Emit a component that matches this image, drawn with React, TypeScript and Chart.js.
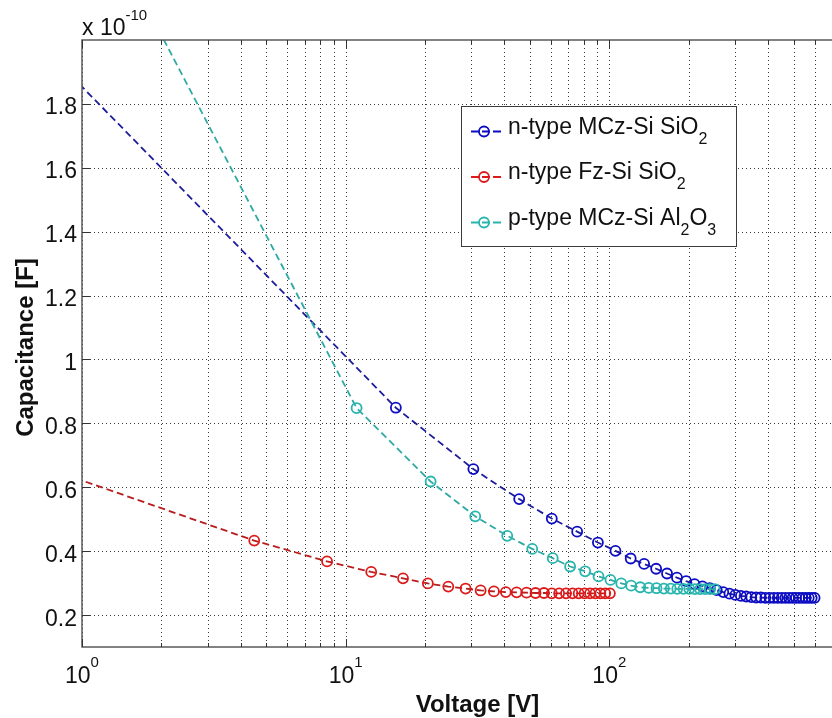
import React, { useEffect, useRef } from 'react';
import { Chart, registerables } from 'chart.js';

Chart.register(...registerables);

// ---------- data (capacitance in units of 1e-10 F) ----------
const blueV = [0.5, 15.5, 30.5, 45.5, 60.5, 75.5, 90.5, 105.5, 120.5, 135.5, 150.5, 165.5, 180.5, 195.5, 210.5, 225.5, 240.5, 255.5, 270.5, 285.5, 300.5, 315.5, 330.5, 345.5, 360.5, 375.5, 390.5, 405.5, 420.5, 435.5, 450.5, 465.5, 480.5, 495.5, 510.5, 525.5, 540.5, 555.5, 570.5, 585.5, 600.5];
const blueC = [2.108, 0.849, 0.657, 0.563, 0.502, 0.461, 0.427, 0.401, 0.377, 0.360, 0.345, 0.330, 0.317, 0.306, 0.297, 0.290, 0.284, 0.278, 0.272, 0.267, 0.263, 0.260, 0.258, 0.256, 0.255, 0.255, 0.254, 0.254, 0.254, 0.254, 0.254, 0.254, 0.254, 0.254, 0.254, 0.254, 0.254, 0.254, 0.254, 0.254, 0.254];

const redV = [0.5, 4.5, 8.5, 12.5, 16.5, 20.5, 24.5, 28.5, 32.5, 36.5, 40.5, 44.5, 48.5, 52.5, 56.5, 60.5, 64.5, 68.5, 72.5, 76.5, 80.5, 84.5, 88.5, 92.5, 96.5, 100.5];
const redC = [0.708, 0.433, 0.368, 0.335, 0.315, 0.299, 0.289, 0.283, 0.277, 0.274, 0.272, 0.271, 0.270, 0.269, 0.269, 0.268, 0.268, 0.268, 0.268, 0.268, 0.268, 0.268, 0.268, 0.268, 0.268, 0.268];

const cyanV = [1, 11, 21, 31, 41, 51, 61, 71, 81, 91, 101, 111, 121, 131, 141, 151, 161, 171, 181, 191, 201, 211, 221, 231, 241, 251];
const cyanC = [2.49, 0.848, 0.618, 0.509, 0.448, 0.407, 0.378, 0.352, 0.337, 0.321, 0.310, 0.299, 0.292, 0.287, 0.285, 0.284, 0.283, 0.283, 0.282, 0.282, 0.282, 0.281, 0.281, 0.281, 0.281, 0.281];

const seriesLabels = ['n-type MCz-Si SiO_2', 'n-type Fz-Si SiO_2', 'p-type MCz-Si Al_2O_3'];

const yTicks = [0.2, 0.4, 0.6, 0.8, 1.0, 1.2, 1.4, 1.6, 1.8];
const yTickLabels = ['0.2', '0.4', '0.6', '0.8', '1', '1.2', '1.4', '1.6', '1.8'];
const xMajor = [1, 10, 100];
const xMajorExp = ['0', '1', '2'];
const xMinor = [2, 3, 4, 5, 6, 7, 8, 9, 20, 30, 40, 50, 60, 70, 80, 90, 200, 300, 400, 500, 600, 700, 800, 900];
const yExponentLabel = '-10';
const xTitle = 'Voltage [V]';
const yTitle = 'Capacitance [F]';

const FONT = '"Liberation Sans", Arial, Helvetica, sans-serif';
const lineColors = ['#1d1d9c', '#b81c1c', '#2fa9a3'];
const pointColors = ['#0c0cc4', '#dc1a1a', '#27b5ae'];

const CW = 900;
const CH = 718;

function drawSubText(ctx: CanvasRenderingContext2D, text: string, x: number, y: number, size: number, subSize: number) {
  // "_c" => subscript single char
  let cx = x;
  let i = 0;
  while (i < text.length) {
    if (text[i] === '_' && i + 1 < text.length) {
      ctx.font = `${subSize}px ${FONT}`;
      ctx.fillText(text[i + 1], cx, y + 10);
      cx += ctx.measureText(text[i + 1]).width;
      i += 2;
    } else {
      let j = i;
      while (j < text.length && text[j] !== '_') j++;
      const part = text.slice(i, j);
      ctx.font = `${size}px ${FONT}`;
      ctx.fillText(part, cx, y);
      cx += ctx.measureText(part).width;
      i = j;
    }
  }
}

const overlay = {
  id: 'overlay',
  beforeDraw(chart: any) {
    const ctx = chart.ctx;
    ctx.save();
    ctx.fillStyle = '#ffffff';
    ctx.fillRect(0, 0, chart.width, chart.height);
    ctx.restore();
  },
  beforeDatasetsDraw(chart: any) {
    const { ctx, chartArea: a, scales } = chart;
    const x = scales.x;
    const y = scales.y;
    ctx.save();
    ctx.strokeStyle = '#3c3c3c';
    ctx.lineWidth = 1;
    ctx.setLineDash([1, 3]);
    [...xMajor, ...xMinor].forEach((v) => {
      const px = Math.round(x.getPixelForValue(v)) + 0.5;
      ctx.beginPath();
      ctx.moveTo(px, a.top);
      ctx.lineTo(px, a.bottom);
      ctx.stroke();
    });
    yTicks.forEach((v) => {
      const py = Math.round(y.getPixelForValue(v)) + 0.5;
      ctx.beginPath();
      ctx.moveTo(a.left, py);
      ctx.lineTo(a.right, py);
      ctx.stroke();
    });
    ctx.restore();
  },
  afterDatasetsDraw(chart: any) {
    const { ctx, chartArea: a, scales } = chart;
    const x = scales.x;
    const y = scales.y;
    ctx.save();
    ctx.setLineDash([]);
    // axes box
    ctx.strokeStyle = '#5a5a5a';
    ctx.lineWidth = 1.5;
    ctx.beginPath();
    ctx.moveTo(a.right, a.top);
    ctx.lineTo(a.left, a.top);
    ctx.lineTo(a.left, a.bottom);
    ctx.lineTo(a.right, a.bottom);
    ctx.lineTo(a.right, a.top);
    ctx.stroke();
    // tick marks
    ctx.lineWidth = 1;
    ctx.strokeStyle = '#333';
    xMajor.forEach((v) => {
      const px = Math.round(x.getPixelForValue(v)) + 0.5;
      ctx.beginPath();
      ctx.moveTo(px, a.bottom);
      ctx.lineTo(px, a.bottom - 8);
      ctx.moveTo(px, a.top);
      ctx.lineTo(px, a.top + 8);
      ctx.stroke();
    });
    xMinor.forEach((v) => {
      const px = Math.round(x.getPixelForValue(v)) + 0.5;
      ctx.beginPath();
      ctx.moveTo(px, a.bottom);
      ctx.lineTo(px, a.bottom - 4);
      ctx.moveTo(px, a.top);
      ctx.lineTo(px, a.top + 4);
      ctx.stroke();
    });
    yTicks.forEach((v) => {
      const py = Math.round(y.getPixelForValue(v)) + 0.5;
      ctx.beginPath();
      ctx.moveTo(a.left, py);
      ctx.lineTo(a.left + 8, py);
      ctx.moveTo(a.right, py);
      ctx.lineTo(a.right - 8, py);
      ctx.stroke();
    });

    // tick labels
    ctx.fillStyle = '#111';
    ctx.textBaseline = 'alphabetic';
    ctx.font = `23px ${FONT}`;
    ctx.textAlign = 'right';
    yTicks.forEach((v, i) => {
      const py = y.getPixelForValue(v);
      ctx.fillText(yTickLabels[i], a.left - 5, py + 10.5);
    });
    ctx.textAlign = 'left';
    xMajor.forEach((v, i) => {
      const px = x.getPixelForValue(v);
      ctx.font = `23px ${FONT}`;
      const w10 = ctx.measureText('10').width;
      ctx.font = `15px ${FONT}`;
      const ws = ctx.measureText(xMajorExp[i]).width;
      const start = px - (w10 + ws) / 2;
      ctx.font = `23px ${FONT}`;
      ctx.fillText('10', start, a.bottom + 36);
      ctx.font = `15px ${FONT}`;
      ctx.fillText(xMajorExp[i], start + w10, a.bottom + 20);
    });

    // exponent label for y
    ctx.font = `23px ${FONT}`;
    ctx.fillText('x 10', a.left, a.top - 5);
    const wx = ctx.measureText('x 10').width;
    ctx.font = `15px ${FONT}`;
    ctx.fillText(yExponentLabel, a.left + wx, a.top - 20);

    // axis titles
    ctx.font = `bold 24px ${FONT}`;
    ctx.textAlign = 'center';
    ctx.fillText(xTitle, (a.left + a.right) / 2, a.bottom + 65);
    ctx.save();
    ctx.translate(33, (a.top + a.bottom) / 2 + 4);
    ctx.rotate(-Math.PI / 2);
    ctx.fillText(yTitle, 0, 0);
    ctx.restore();

    // legend
    const lx = 461.5;
    const ly = 106.5;
    ctx.fillStyle = '#ffffff';
    ctx.fillRect(lx, ly, 275, 140);
    ctx.strokeStyle = '#3a3a3a';
    ctx.lineWidth = 1;
    ctx.strokeRect(lx, ly, 275, 140);
    const rowsY = [131.5, 177, 222.5];
    seriesLabels.forEach((lab, i) => {
      const ry = rowsY[i];
      ctx.strokeStyle = pointColors[i];
      ctx.lineWidth = 1.8;
      ctx.setLineDash([8, 3]);
      ctx.beginPath();
      ctx.moveTo(471, ry);
      ctx.lineTo(503, ry);
      ctx.stroke();
      ctx.setLineDash([]);
      ctx.beginPath();
      ctx.arc(484, ry, 5, 0, Math.PI * 2);
      ctx.stroke();
      ctx.fillStyle = '#111';
      ctx.textAlign = 'left';
      drawSubText(ctx, lab, 508, ry + 2, 23, 16);
    });
    ctx.restore();
  },
};

function mk(vs: number[], cs: number[]) {
  return vs.map((v, i) => ({ x: v, y: cs[i] }));
}

export default function App() {
  const ref = useRef<HTMLCanvasElement>(null);
  useEffect(() => {
    if (!ref.current) return;
    const datasets = [
      { label: seriesLabels[0], data: mk(blueV, blueC), order: 3 },
      { label: seriesLabels[1], data: mk(redV, redC), order: 2 },
      { label: seriesLabels[2], data: mk(cyanV, cyanC), order: 1 },
    ].map((d, i) => ({
      ...d,
      borderColor: lineColors[i],
      borderWidth: 1.8,
      borderDash: [7, 4],
      pointRadius: 5,
      pointBorderWidth: 1.8,
      pointBorderColor: pointColors[i],
      pointBackgroundColor: 'rgba(0,0,0,0)',
      pointStyle: 'circle',
      tension: 0,
      fill: false,
    }));
    const chart = new Chart(ref.current, {
      type: 'line',
      data: { datasets } as any,
      options: {
        animation: false,
        responsive: false,
        devicePixelRatio: 1,
        events: [],
        layout: { padding: { left: 82, top: 40, right: CW - 873, bottom: CH - 647 } },
        plugins: { legend: { display: false }, tooltip: { enabled: false } },
        scales: {
          x: { type: 'logarithmic', min: 1, max: 1000, display: false },
          y: { type: 'linear', min: 0.1, max: 2.0, display: false },
        },
      } as any,
      plugins: [overlay],
    });
    return () => chart.destroy();
  }, []);
  return (
    <div style={{ position: 'fixed', left: 0, top: 0, width: 832, height: 718, overflow: 'hidden', background: '#fff' }}>
      <canvas ref={ref} width={CW} height={CH} style={{ width: CW, height: CH, display: 'block' }} />
    </div>
  );
}
